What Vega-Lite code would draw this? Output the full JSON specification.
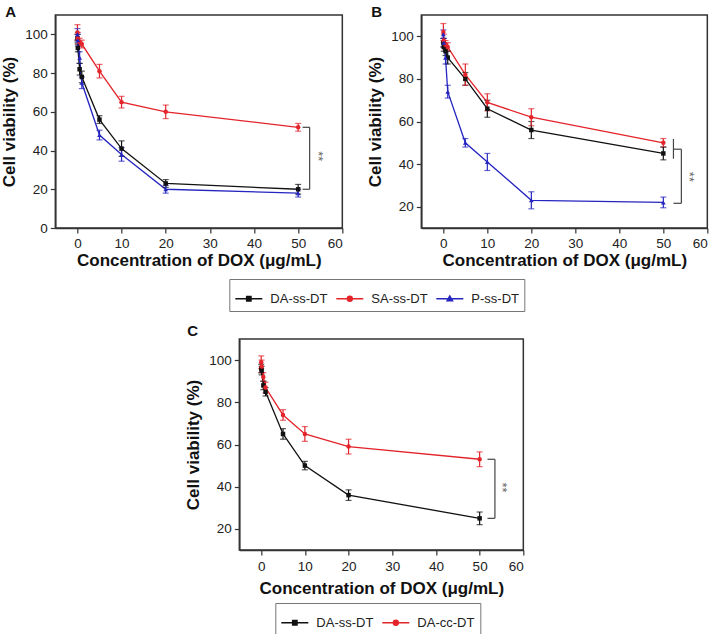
{
  "$schema": "https://vega.github.io/schema/vega-lite/v6.json",
  "background": "white",
  "padding": {"left": 0, "top": 4, "right": 0, "bottom": 0},
  "config": {
    "font": "Liberation Sans",
    "view": {"stroke": "#333333", "strokeWidth": 1.5},
    "axis": {"grid": false, "domainColor": "#333333", "domainWidth": 1.5, "tickColor": "#333333", "tickWidth": 1.2, "labelFont": "Liberation Sans", "labelFontSize": 13.5, "labelColor": "#222222", "labelPadding": 3, "titleFont": "Liberation Sans", "titleFontSize": 17, "titleFontWeight": "bold", "titleColor": "#111111"},
    "legend": {"labelFont": "Liberation Sans", "labelFontSize": 13, "labelColor": "#222222", "symbolOpacity": 1},
    "title": {"font": "Liberation Sans", "fontSize": 15, "fontWeight": "bold", "color": "#111111", "anchor": "start", "frame": "group"}
  },
  "datasets": {
    "pts": [
      {"p":"A","s":"DA-ss-DT","x":0.01,"y":98,"e":2},{"p":"A","s":"DA-ss-DT","x":0.1,"y":93,"e":2},{"p":"A","s":"DA-ss-DT","x":0.5,"y":82,"e":3},{"p":"A","s":"DA-ss-DT","x":1,"y":78,"e":3},{"p":"A","s":"DA-ss-DT","x":5,"y":56,"e":2},{"p":"A","s":"DA-ss-DT","x":10,"y":41,"e":4},{"p":"A","s":"DA-ss-DT","x":20,"y":23,"e":2},{"p":"A","s":"DA-ss-DT","x":50,"y":20,"e":2.5},
      {"p":"A","s":"SA-ss-DT","x":0.01,"y":101,"e":4},{"p":"A","s":"SA-ss-DT","x":0.1,"y":98,"e":3},{"p":"A","s":"SA-ss-DT","x":0.5,"y":96,"e":2},{"p":"A","s":"SA-ss-DT","x":1,"y":95,"e":2},{"p":"A","s":"SA-ss-DT","x":5,"y":81,"e":3.5},{"p":"A","s":"SA-ss-DT","x":10,"y":65,"e":3},{"p":"A","s":"SA-ss-DT","x":20,"y":60,"e":3.5},{"p":"A","s":"SA-ss-DT","x":50,"y":52,"e":2},
      {"p":"A","s":"P-ss-DT","x":0.01,"y":100,"e":3},{"p":"A","s":"P-ss-DT","x":0.1,"y":97,"e":3},{"p":"A","s":"P-ss-DT","x":0.5,"y":88,"e":3},{"p":"A","s":"P-ss-DT","x":1,"y":75,"e":3},{"p":"A","s":"P-ss-DT","x":5,"y":48,"e":2.5},{"p":"A","s":"P-ss-DT","x":10,"y":38,"e":3.5},{"p":"A","s":"P-ss-DT","x":20,"y":20,"e":2},{"p":"A","s":"P-ss-DT","x":50,"y":18,"e":2},
      {"p":"B","s":"DA-ss-DT","x":0.01,"y":97,"e":2},{"p":"B","s":"DA-ss-DT","x":0.1,"y":95,"e":2},{"p":"B","s":"DA-ss-DT","x":0.5,"y":93,"e":2},{"p":"B","s":"DA-ss-DT","x":1,"y":90,"e":3},{"p":"B","s":"DA-ss-DT","x":5,"y":80,"e":3},{"p":"B","s":"DA-ss-DT","x":10,"y":66,"e":4},{"p":"B","s":"DA-ss-DT","x":20,"y":56,"e":4},{"p":"B","s":"DA-ss-DT","x":50,"y":45,"e":3},
      {"p":"B","s":"SA-ss-DT","x":0.01,"y":102,"e":4},{"p":"B","s":"SA-ss-DT","x":0.1,"y":98,"e":3},{"p":"B","s":"SA-ss-DT","x":0.5,"y":96,"e":2},{"p":"B","s":"SA-ss-DT","x":1,"y":95,"e":2},{"p":"B","s":"SA-ss-DT","x":5,"y":82,"e":5},{"p":"B","s":"SA-ss-DT","x":10,"y":69,"e":4},{"p":"B","s":"SA-ss-DT","x":20,"y":62,"e":4},{"p":"B","s":"SA-ss-DT","x":50,"y":50,"e":2},
      {"p":"B","s":"P-ss-DT","x":0.01,"y":101,"e":2},{"p":"B","s":"P-ss-DT","x":0.1,"y":97,"e":2},{"p":"B","s":"P-ss-DT","x":0.5,"y":90,"e":3},{"p":"B","s":"P-ss-DT","x":1,"y":74,"e":3},{"p":"B","s":"P-ss-DT","x":5,"y":50,"e":2},{"p":"B","s":"P-ss-DT","x":10,"y":41,"e":4},{"p":"B","s":"P-ss-DT","x":20,"y":23,"e":4},{"p":"B","s":"P-ss-DT","x":50,"y":22,"e":2.5},
      {"p":"C","s":"DA-ss-DT","x":0.01,"y":96,"e":2},{"p":"C","s":"DA-ss-DT","x":0.1,"y":95,"e":2},{"p":"C","s":"DA-ss-DT","x":0.5,"y":88,"e":2},{"p":"C","s":"DA-ss-DT","x":1,"y":85,"e":2},{"p":"C","s":"DA-ss-DT","x":5,"y":65,"e":2.5},{"p":"C","s":"DA-ss-DT","x":10,"y":50,"e":2},{"p":"C","s":"DA-ss-DT","x":20,"y":36,"e":2.5},{"p":"C","s":"DA-ss-DT","x":50,"y":25,"e":3},
      {"p":"C","s":"DA-cc-DT","x":0.01,"y":99,"e":3},{"p":"C","s":"DA-cc-DT","x":0.1,"y":97,"e":3},{"p":"C","s":"DA-cc-DT","x":0.5,"y":92,"e":2},{"p":"C","s":"DA-cc-DT","x":1,"y":87,"e":2.5},{"p":"C","s":"DA-cc-DT","x":5,"y":74,"e":2.5},{"p":"C","s":"DA-cc-DT","x":10,"y":65,"e":3.5},{"p":"C","s":"DA-cc-DT","x":20,"y":59,"e":3.5},{"p":"C","s":"DA-cc-DT","x":50,"y":53,"e":3.5}
    ],
    "br": [
      {"p":"A","bx":51,"bx2":52.6,"by":52,"by2":52},{"p":"A","bx":52.6,"bx2":52.6,"by":20,"by2":52},{"p":"A","bx":51,"bx2":52.6,"by":20,"by2":20},
      {"p":"B","bx":52.3,"bx2":52.3,"by":42.5,"by2":51.8},{"p":"B","bx":52.3,"bx2":54.1,"by":47,"by2":47},{"p":"B","bx":54.1,"bx2":54.1,"by":21.6,"by2":47},{"p":"B","bx":52.3,"bx2":54.1,"by":21.6,"by2":21.6},
      {"p":"C","bx":51.8,"bx2":53.5,"by":53,"by2":53},{"p":"C","bx":53.5,"bx2":53.5,"by":25,"by2":53},{"p":"C","bx":51.8,"bx2":53.5,"by":25,"by2":25}
    ],
    "st": [
      {"p":"A","sx":54.5,"sy":37,"t":"**"},
      {"p":"B","sx":55.9,"sy":34,"t":"**"},
      {"p":"C","sx":55.1,"sy":39.6,"t":"**"}
    ]
  },
  "spacing": 10,
  "center": true,
  "resolve": {"scale": {"color": "independent"}, "legend": {"color": "independent"}},
  "vconcat": [
    {
      "spacing": 79,
      "bounds": "flush",
      "resolve": {"scale": {"color": "independent"}, "legend": {"color": "independent"}},
      "hconcat": [
        {
          "width": 287, "height": 213,
          "title": {"text": "A", "dx": -50, "offset": -5},
          "layer": [
            {
              "data": {"name": "pts"},
              "transform": [{"filter": "datum.p === 'A'"}],
              "mark": {"type": "line", "strokeWidth": 1.3},
              "encoding": {
                "x": {"field": "x", "type": "quantitative", "title": "Concentration of DOX (μg/mL)", "scale": {"domain": [-5, 60], "nice": false, "zero": false}, "axis": {"values": [0,5,10,15,20,25,30,35,40,45,50,55,60], "labelExpr": "datum.value % 10 === 0 ? datum.label : ''", "tickSize": {"condition": {"test": "datum.value % 10 !== 0", "value": 3}, "value": 5}, "titlePadding": 3}},
                "y": {"field": "y", "type": "quantitative", "title": "Cell viability (%)", "scale": {"domain": [0, 110], "nice": false, "zero": false}, "axis": {"values": [0,10,20,30,40,50,60,70,80,90,100], "labelExpr": "datum.value % 20 === 0 ? datum.label : ''", "tickSize": {"condition": {"test": "datum.value % 20 !== 0", "value": 3}, "value": 5}, "titlePadding": 6}},
                "color": {"field": "s", "type": "nominal", "scale": {"domain": ["DA-ss-DT","SA-ss-DT","P-ss-DT"], "range": ["#111111","#e3242b","#2525c0"]},
                  "legend": {"orient": "none", "legendX": 174, "legendY": 264, "direction": "horizontal", "title": null, "strokeColor": "#777777", "padding": 5, "symbolSize": 729, "columnPadding": 5, "labelOffset": 7,
                    "encode": {"symbols": {"update": {
                      "shape": {"signal": "datum.value === 'DA-ss-DT' ? 'M-1,0L1,0M-0.16,-0.16L0.16,-0.16L0.16,0.16L-0.16,0.16Z' : datum.value === 'SA-ss-DT' ? 'M-1,0L1,0M-0.18,0A0.18,0.18,0,1,0,0.18,0A0.18,0.18,0,1,0,-0.18,0Z' : 'M-1,0L1,0M0,-0.2L0.2,0.15L-0.2,0.15Z'"},
                      "fill": {"signal": "datum.value === 'DA-ss-DT' ? '#111111' : datum.value === 'SA-ss-DT' ? '#e3242b' : '#2525c0'"},
                      "stroke": {"signal": "datum.value === 'DA-ss-DT' ? '#111111' : datum.value === 'SA-ss-DT' ? '#e3242b' : '#2525c0'"},
                      "strokeWidth": {"value": 1.5},
                      "opacity": {"value": 1}
                    }}}}}
              }
            },
            {
              "data": {"name": "pts"},
              "transform": [{"filter": "datum.p === 'A'"}],
              "mark": {"type": "errorbar", "ticks": {"size": 6}, "thickness": 1.2},
              "encoding": {
                "x": {"field": "x", "type": "quantitative", "title": "Concentration of DOX (μg/mL)"},
                "y": {"field": "y", "type": "quantitative", "title": "Cell viability (%)"},
                "yError": {"field": "e"},
                "color": {"field": "s", "type": "nominal"}
              }
            },
            {
              "data": {"name": "pts"},
              "transform": [{"filter": "datum.p === 'A' && datum.s === 'DA-ss-DT'"}],
              "mark": {"type": "point", "filled": true, "size": 20, "opacity": 1, "shape": "square"},
              "encoding": {"x": {"field": "x", "type": "quantitative", "title": "Concentration of DOX (μg/mL)"}, "y": {"field": "y", "type": "quantitative", "title": "Cell viability (%)"}, "color": {"field": "s", "type": "nominal"}}
            },
            {
              "data": {"name": "pts"},
              "transform": [{"filter": "datum.p === 'A' && datum.s === 'SA-ss-DT'"}],
              "mark": {"type": "point", "filled": true, "size": 20, "opacity": 1, "shape": "circle"},
              "encoding": {"x": {"field": "x", "type": "quantitative", "title": "Concentration of DOX (μg/mL)"}, "y": {"field": "y", "type": "quantitative", "title": "Cell viability (%)"}, "color": {"field": "s", "type": "nominal"}}
            },
            {
              "data": {"name": "pts"},
              "transform": [{"filter": "datum.p === 'A' && datum.s === 'P-ss-DT'"}],
              "mark": {"type": "point", "filled": true, "size": 22, "opacity": 1, "shape": "triangle-up"},
              "encoding": {"x": {"field": "x", "type": "quantitative", "title": "Concentration of DOX (μg/mL)"}, "y": {"field": "y", "type": "quantitative", "title": "Cell viability (%)"}, "color": {"field": "s", "type": "nominal"}}
            },
            {
              "data": {"name": "br"},
              "transform": [{"filter": "datum.p === 'A'"}],
              "mark": {"type": "rule", "color": "#444444", "strokeWidth": 1.2},
              "encoding": {
                "x": {"field": "bx", "type": "quantitative", "title": "Concentration of DOX (μg/mL)"},
                "x2": {"field": "bx2"},
                "y": {"field": "by", "type": "quantitative", "title": "Cell viability (%)"},
                "y2": {"field": "by2"}
              }
            },
            {
              "data": {"name": "st"},
              "transform": [{"filter": "datum.p === 'A'"}],
              "mark": {"type": "text", "angle": 90, "color": "#666666", "fontSize": 13, "align": "center", "baseline": "middle"},
              "encoding": {
                "x": {"field": "sx", "type": "quantitative", "title": "Concentration of DOX (μg/mL)"},
                "y": {"field": "sy", "type": "quantitative", "title": "Cell viability (%)"},
                "text": {"field": "t"}
              }
            }
          ]
        },
        {
          "width": 286, "height": 213,
          "title": {"text": "B", "dx": -50, "offset": -5},
          "layer": [
            {
              "data": {"name": "pts"},
              "transform": [{"filter": "datum.p === 'B'"}],
              "mark": {"type": "line", "strokeWidth": 1.3},
              "encoding": {
                "x": {"field": "x", "type": "quantitative", "title": "Concentration of DOX (μg/mL)", "scale": {"domain": [-5, 60], "nice": false, "zero": false}, "axis": {"values": [0,5,10,15,20,25,30,35,40,45,50,55,60], "labelExpr": "datum.value % 10 === 0 ? datum.label : ''", "tickSize": {"condition": {"test": "datum.value % 10 !== 0", "value": 3}, "value": 5}, "titlePadding": 3}},
                "y": {"field": "y", "type": "quantitative", "title": "Cell viability (%)", "scale": {"domain": [10, 110], "nice": false, "zero": false}, "axis": {"values": [20,30,40,50,60,70,80,90,100], "labelExpr": "datum.value % 20 === 0 ? datum.label : ''", "tickSize": {"condition": {"test": "datum.value % 20 !== 0", "value": 3}, "value": 5}, "titlePadding": 6}},
                "color": {"field": "s", "type": "nominal", "scale": {"domain": ["DA-ss-DT","SA-ss-DT","P-ss-DT"], "range": ["#111111","#e3242b","#2525c0"]}, "legend": null}
              }
            },
            {
              "data": {"name": "pts"},
              "transform": [{"filter": "datum.p === 'B'"}],
              "mark": {"type": "errorbar", "ticks": {"size": 6}, "thickness": 1.2},
              "encoding": {
                "x": {"field": "x", "type": "quantitative", "title": "Concentration of DOX (μg/mL)"},
                "y": {"field": "y", "type": "quantitative", "title": "Cell viability (%)"},
                "yError": {"field": "e"},
                "color": {"field": "s", "type": "nominal", "legend": null}
              }
            },
            {
              "data": {"name": "pts"},
              "transform": [{"filter": "datum.p === 'B' && datum.s === 'DA-ss-DT'"}],
              "mark": {"type": "point", "filled": true, "size": 20, "opacity": 1, "shape": "square"},
              "encoding": {"x": {"field": "x", "type": "quantitative", "title": "Concentration of DOX (μg/mL)"}, "y": {"field": "y", "type": "quantitative", "title": "Cell viability (%)"}, "color": {"field": "s", "type": "nominal", "legend": null}}
            },
            {
              "data": {"name": "pts"},
              "transform": [{"filter": "datum.p === 'B' && datum.s === 'SA-ss-DT'"}],
              "mark": {"type": "point", "filled": true, "size": 20, "opacity": 1, "shape": "circle"},
              "encoding": {"x": {"field": "x", "type": "quantitative", "title": "Concentration of DOX (μg/mL)"}, "y": {"field": "y", "type": "quantitative", "title": "Cell viability (%)"}, "color": {"field": "s", "type": "nominal", "legend": null}}
            },
            {
              "data": {"name": "pts"},
              "transform": [{"filter": "datum.p === 'B' && datum.s === 'P-ss-DT'"}],
              "mark": {"type": "point", "filled": true, "size": 22, "opacity": 1, "shape": "triangle-up"},
              "encoding": {"x": {"field": "x", "type": "quantitative", "title": "Concentration of DOX (μg/mL)"}, "y": {"field": "y", "type": "quantitative", "title": "Cell viability (%)"}, "color": {"field": "s", "type": "nominal", "legend": null}}
            },
            {
              "data": {"name": "br"},
              "transform": [{"filter": "datum.p === 'B'"}],
              "mark": {"type": "rule", "color": "#444444", "strokeWidth": 1.2},
              "encoding": {
                "x": {"field": "bx", "type": "quantitative", "title": "Concentration of DOX (μg/mL)"},
                "x2": {"field": "bx2"},
                "y": {"field": "by", "type": "quantitative", "title": "Cell viability (%)"},
                "y2": {"field": "by2"}
              }
            },
            {
              "data": {"name": "st"},
              "transform": [{"filter": "datum.p === 'B'"}],
              "mark": {"type": "text", "angle": 90, "color": "#666666", "fontSize": 13, "align": "center", "baseline": "middle"},
              "encoding": {
                "x": {"field": "sx", "type": "quantitative", "title": "Concentration of DOX (μg/mL)"},
                "y": {"field": "sy", "type": "quantitative", "title": "Cell viability (%)"},
                "text": {"field": "t"}
              }
            }
          ]
        }
      ]
    },
    {
      "width": 284, "height": 211,
      "title": {"text": "C", "dx": -52, "offset": 0},
      "layer": [
        {
          "data": {"name": "pts"},
          "transform": [{"filter": "datum.p === 'C'"}],
          "mark": {"type": "line", "strokeWidth": 1.3},
          "encoding": {
            "x": {"field": "x", "type": "quantitative", "title": "Concentration of DOX (μg/mL)", "scale": {"domain": [-5, 60], "nice": false, "zero": false}, "axis": {"values": [0,5,10,15,20,25,30,35,40,45,50,55,60], "labelExpr": "datum.value % 10 === 0 ? datum.label : ''", "tickSize": {"condition": {"test": "datum.value % 10 !== 0", "value": 3}, "value": 5}, "labelPadding": 4, "titlePadding": 8}},
            "y": {"field": "y", "type": "quantitative", "title": "Cell viability (%)", "scale": {"domain": [10, 110], "nice": false, "zero": false}, "axis": {"values": [20,30,40,50,60,70,80,90,100], "labelExpr": "datum.value % 20 === 0 ? datum.label : ''", "tickSize": {"condition": {"test": "datum.value % 20 !== 0", "value": 3}, "value": 5}, "titlePadding": 6}},
            "color": {"field": "s", "type": "nominal", "scale": {"domain": ["DA-ss-DT","DA-cc-DT"], "range": ["#111111","#e3242b"]},
              "legend": {"orient": "none", "legendX": 36, "legendY": 264, "direction": "horizontal", "title": null, "strokeColor": "#777777", "padding": 5, "symbolSize": 729, "columnPadding": 5, "labelOffset": 7,
                "encode": {"symbols": {"update": {
                  "shape": {"signal": "datum.value === 'DA-ss-DT' ? 'M-1,0L1,0M-0.16,-0.16L0.16,-0.16L0.16,0.16L-0.16,0.16Z' : 'M-1,0L1,0M-0.18,0A0.18,0.18,0,1,0,0.18,0A0.18,0.18,0,1,0,-0.18,0Z'"},
                  "fill": {"signal": "datum.value === 'DA-ss-DT' ? '#111111' : '#e3242b'"},
                  "stroke": {"signal": "datum.value === 'DA-ss-DT' ? '#111111' : '#e3242b'"},
                  "strokeWidth": {"value": 1.5},
                  "opacity": {"value": 1}
                }}}}}
          }
        },
        {
          "data": {"name": "pts"},
          "transform": [{"filter": "datum.p === 'C'"}],
          "mark": {"type": "errorbar", "ticks": {"size": 6}, "thickness": 1.2},
          "encoding": {
            "x": {"field": "x", "type": "quantitative", "title": "Concentration of DOX (μg/mL)"},
            "y": {"field": "y", "type": "quantitative", "title": "Cell viability (%)"},
            "yError": {"field": "e"},
            "color": {"field": "s", "type": "nominal"}
          }
        },
        {
          "data": {"name": "pts"},
          "transform": [{"filter": "datum.p === 'C' && datum.s === 'DA-ss-DT'"}],
          "mark": {"type": "point", "filled": true, "size": 20, "opacity": 1, "shape": "square"},
          "encoding": {"x": {"field": "x", "type": "quantitative", "title": "Concentration of DOX (μg/mL)"}, "y": {"field": "y", "type": "quantitative", "title": "Cell viability (%)"}, "color": {"field": "s", "type": "nominal"}}
        },
        {
          "data": {"name": "pts"},
          "transform": [{"filter": "datum.p === 'C' && datum.s === 'DA-cc-DT'"}],
          "mark": {"type": "point", "filled": true, "size": 20, "opacity": 1, "shape": "circle"},
          "encoding": {"x": {"field": "x", "type": "quantitative", "title": "Concentration of DOX (μg/mL)"}, "y": {"field": "y", "type": "quantitative", "title": "Cell viability (%)"}, "color": {"field": "s", "type": "nominal"}}
        },
        {
          "data": {"name": "br"},
          "transform": [{"filter": "datum.p === 'C'"}],
          "mark": {"type": "rule", "color": "#444444", "strokeWidth": 1.2},
          "encoding": {
            "x": {"field": "bx", "type": "quantitative", "title": "Concentration of DOX (μg/mL)"},
            "x2": {"field": "bx2"},
            "y": {"field": "by", "type": "quantitative", "title": "Cell viability (%)"},
            "y2": {"field": "by2"}
          }
        },
        {
          "data": {"name": "st"},
          "transform": [{"filter": "datum.p === 'C'"}],
          "mark": {"type": "text", "angle": 90, "color": "#666666", "fontSize": 13, "align": "center", "baseline": "middle"},
          "encoding": {
            "x": {"field": "sx", "type": "quantitative", "title": "Concentration of DOX (μg/mL)"},
            "y": {"field": "sy", "type": "quantitative", "title": "Cell viability (%)"},
            "text": {"field": "t"}
          }
        }
      ]
    }
  ]
}
